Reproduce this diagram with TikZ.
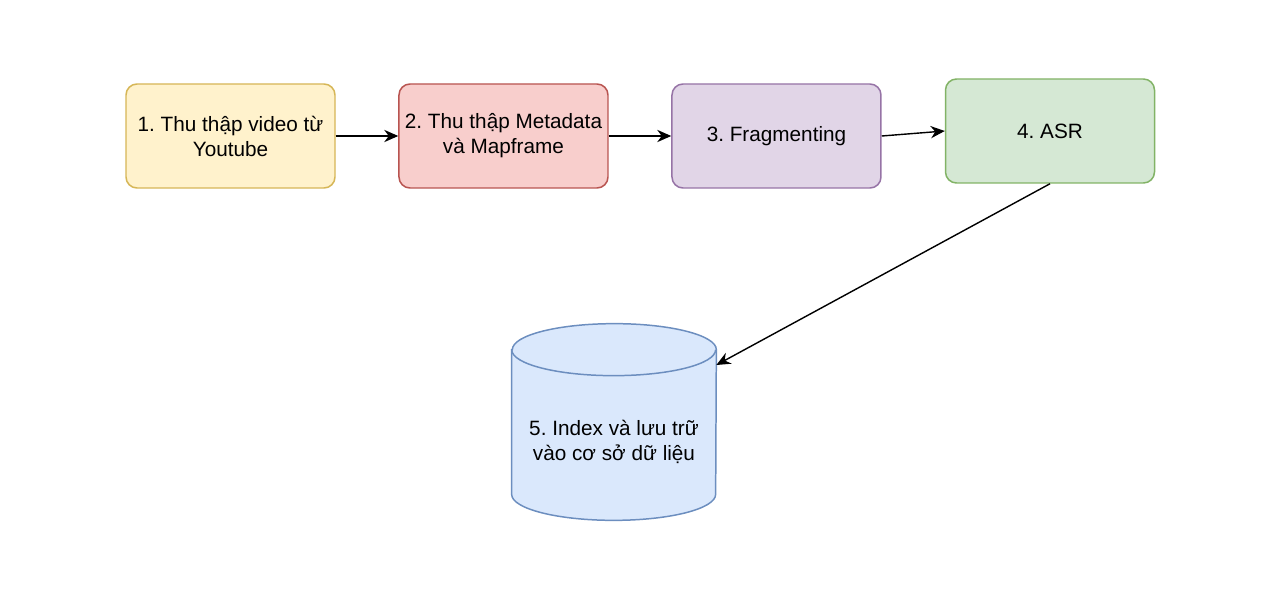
\documentclass[tikz,border=0pt]{standalone}
\usepackage{fontspec}
\setmainfont{Liberation Sans}
\usetikzlibrary{positioning}
\usetikzlibrary{arrows.meta}
\usetikzlibrary{calc}

\definecolor{yfill}{HTML}{FFF2CC}\definecolor{ydraw}{HTML}{D6B656}
\definecolor{rfill}{HTML}{F8CECC}\definecolor{rdraw}{HTML}{B85450}
\definecolor{pfill}{HTML}{E1D5E7}\definecolor{pdraw}{HTML}{9673A6}
\definecolor{gfill}{HTML}{D5E8D4}\definecolor{gdraw}{HTML}{82B366}
\definecolor{bfill}{HTML}{DAE8FC}\definecolor{bdraw}{HTML}{6C8EBF}

\tikzset{
	stepbox/.style={draw, line width=0.85pt, rounded corners=0.22cm, inner sep=2pt, minimum width=4.18cm, minimum height=2.08cm, align=center, font=\fontsize{11.8}{14.2}\selectfont},
	link/.style={-{Stealth[length=8pt,width=7pt]}, line width=0.8pt}
}

\begin{document}
\frenchspacing
\begin{tikzpicture}

\useasboundingbox (0,0) rectangle (25.68,-12.04);

% steps
\node[stepbox, fill=yfill, draw=ydraw] (collect) at (4.61,-2.72) {1. Thu thập video từ\\Youtube};
\node[stepbox, fill=rfill, draw=rdraw, right=1.25 of collect] (meta) {2. Thu thập Metadata\\và Mapframe};
\node[stepbox, fill=pfill, draw=pdraw, right=1.25 of meta] (frag) {3. Fragmenting};
\node[stepbox, fill=gfill, draw=gdraw] (asr) at (21.0,-2.62) {4. ASR};

% database
\node[minimum width=4.08cm, minimum height=3.92cm, inner sep=0pt] (db) at (12.28,-8.44) {};
\def\rx{2.04}
\def\ry{0.52}
\filldraw[draw=bdraw, fill=bfill, line width=0.85pt]
	($(db.north west)+(0,-\ry)$) -- ($(db.south west)+(0,\ry)$) arc (180:360:\rx cm and \ry cm)
	-- ($(db.north east)+(0,-\ry)$) arc (0:180:\rx cm and \ry cm) -- cycle;
\draw[draw=bdraw, line width=0.85pt] ($(db.north west)+(0,-\ry)$) arc (180:360:\rx cm and \ry cm);
\node[align=center, font=\fontsize{11.8}{14.2}\selectfont] (dbtext) at ($(db.center)+(0,-0.4)$) {5. Index và lưu trữ\\vào cơ sở dữ liệu};
\coordinate (dbin) at ($(db.east)+(0,1.14)$);

% arrows
\draw[link] (collect) -- (meta);
\draw[link] (meta) -- (frag);
\draw[link] (frag.east) -- (asr.west);
\draw[link] (asr.south) -- (dbin);

\end{tikzpicture}
\end{document}
